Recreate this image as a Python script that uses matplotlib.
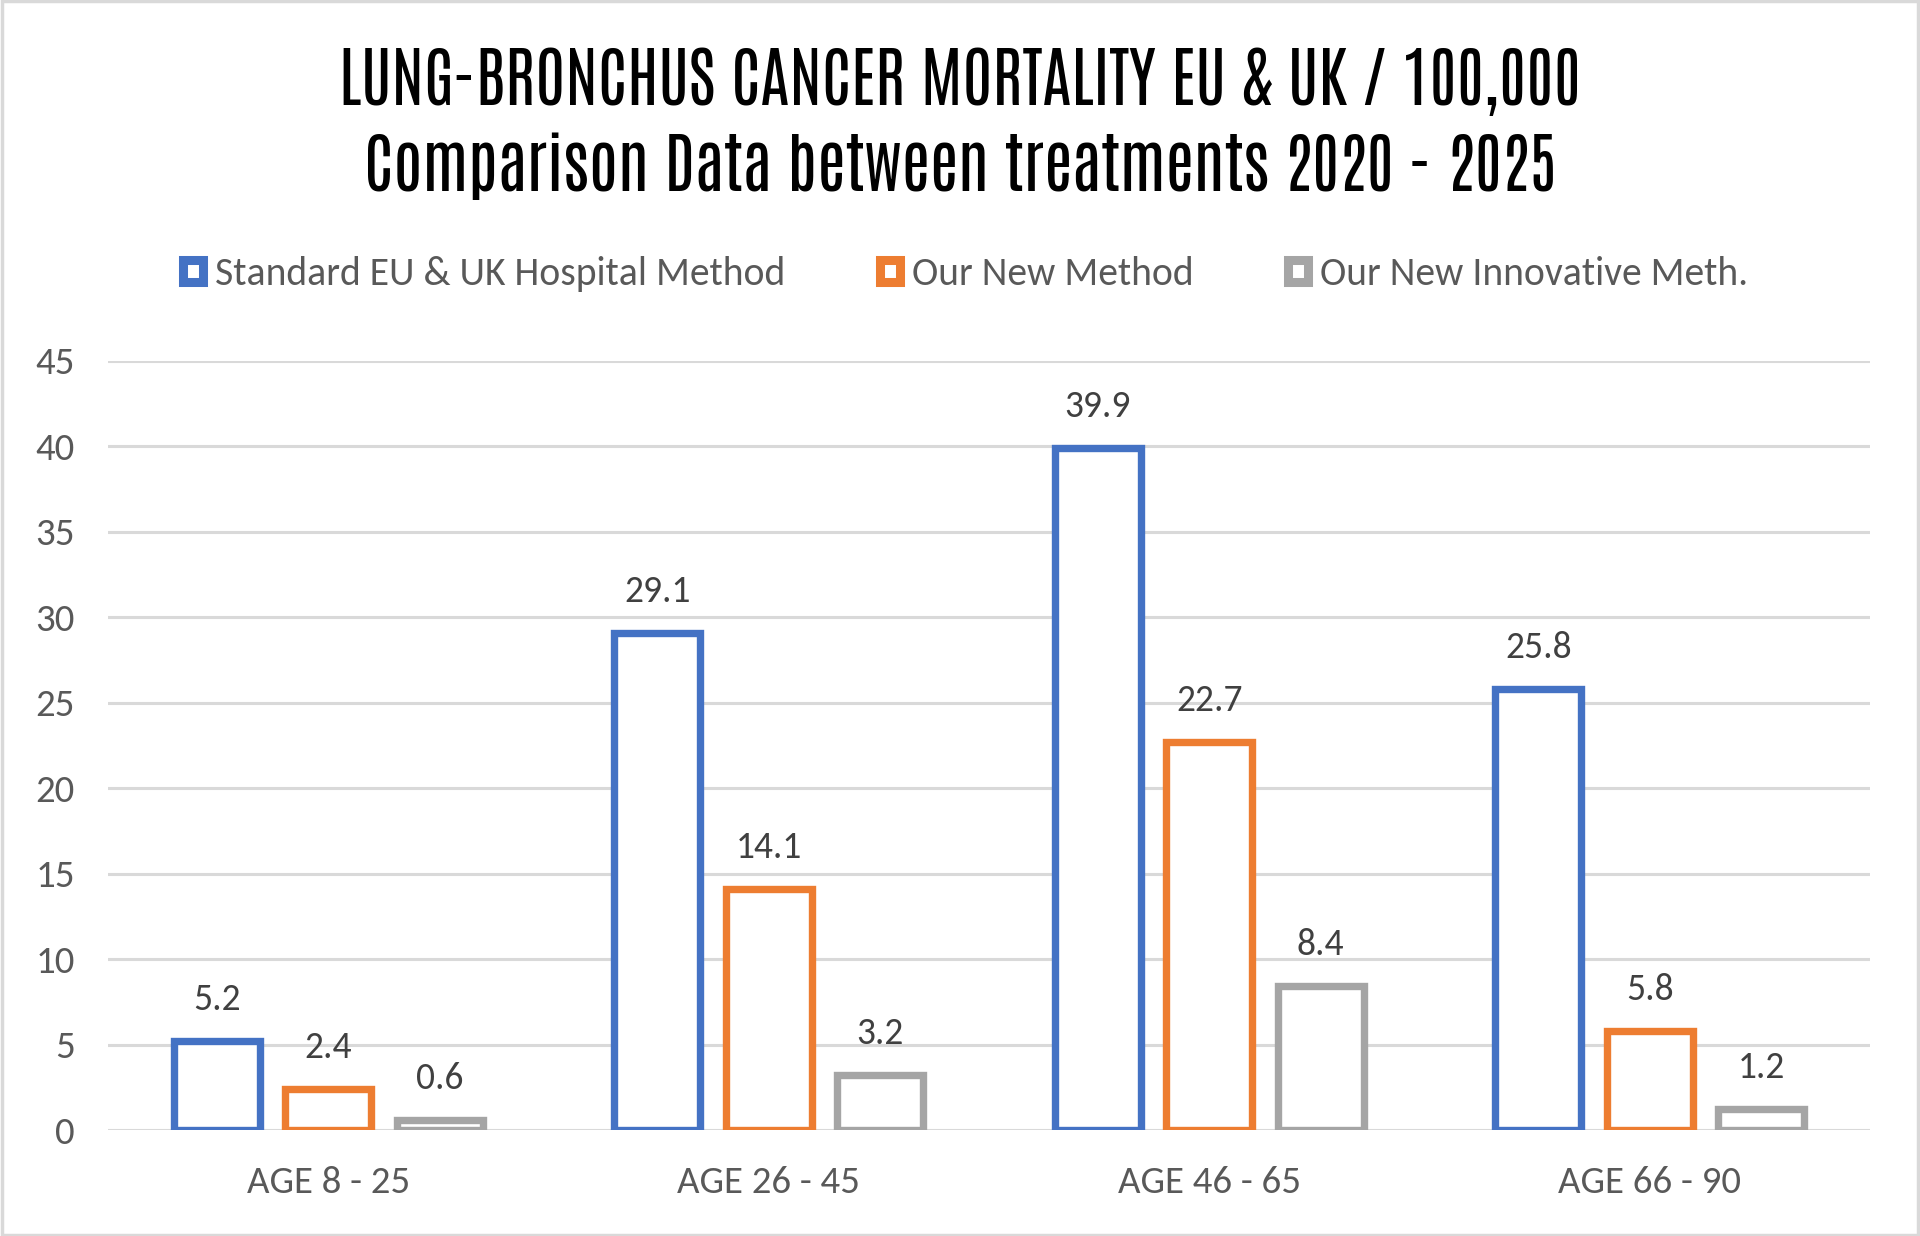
import matplotlib
matplotlib.use("Agg")
import matplotlib.pyplot as plt
import matplotlib.patches as mpatches
import numpy as np

# Data
categories = ['AGE 8 - 25', 'AGE 26 - 45', 'AGE 46 - 65', 'AGE 66 - 90']
standard = [5.2, 29.1, 39.9, 25.8]
new_method = [2.4, 14.1, 22.7, 5.8]
innovative = [0.6, 3.2, 8.4, 1.2]
series_labels = ['Standard EU & UK Hospital Method', 'Our New Method', 'Our New Innovative Meth.']
colors = ['#4472C4', '#ED7D31', '#A5A5A5']

title1 = 'LUNG-BRONCHUS CANCER MORTALITY EU & UK / 100,000'
title2 = 'Comparison Data between treatments 2020 - 2025'

plt.rcParams['font.family'] = ['Carlito', 'DejaVu Sans']

W, H = 1920, 1236
fig = plt.figure(figsize=(W / 100, H / 100), dpi=100)
ax = fig.add_axes([108 / W, 1 - 1130 / H, 1762 / W, 769 / H])

x = np.arange(len(categories))
width = 0.195
offset = 0.253
for i, (vals, col) in enumerate(zip([standard, new_method, innovative], colors)):
    pos = x + (i - 1) * offset
    ax.bar(pos, vals, width=width, facecolor='white', edgecolor=col,
           linewidth=5.3, zorder=3)
    for p, v in zip(pos, vals):
        ax.annotate(f'{v:.1f}', (p, v), xytext=(0, 30), textcoords='offset points',
                    ha='center', va='center', fontsize=27, color='#404040')

ax.set_xlim(-0.5, 3.5)
ax.set_ylim(0, 45)
ax.set_yticks(range(0, 46, 5))
ax.yaxis.grid(True, color='#D9D9D9', linewidth=2.2, zorder=0)
ax.set_axisbelow(True)
for s in ax.spines.values():
    s.set_visible(False)
ax.tick_params(axis='both', length=0, labelsize=28, labelcolor='#595959')
ax.tick_params(axis='y', pad=24)
ax.tick_params(axis='x', pad=26)
ax.set_xticks(x)
ax.set_xticklabels(categories)

# Title
tfont = ['Antonio', 'DejaVu Sans']
fig.text(0.5, 1 - 105 / H, title1, ha='center', va='baseline', fontsize=47,
         family=tfont, color='black')
fig.text(0.5, 1 - 191 / H, title2, ha='center', va='baseline', fontsize=47,
         family=tfont, color='black')

# Legend
handles = [mpatches.Patch(facecolor='white', edgecolor=c, linewidth=6.5, label=l)
           for c, l in zip(colors, series_labels)]
fig.legend(handles=handles, loc='center', bbox_to_anchor=(0.503, 1 - 274 / H),
           ncol=3, frameon=False, fontsize=28.5, labelcolor='#595959',
           handlelength=0.5, handleheight=0.5, handletextpad=0.3, columnspacing=2.4)

# Outer border
fig.patches.append(mpatches.Rectangle((0.001, 0.001), 0.998, 0.998, transform=fig.transFigure,
                                      fill=False, edgecolor='#D9D9D9', linewidth=2.5))

fig.savefig('out.png', dpi=100, facecolor='white')
